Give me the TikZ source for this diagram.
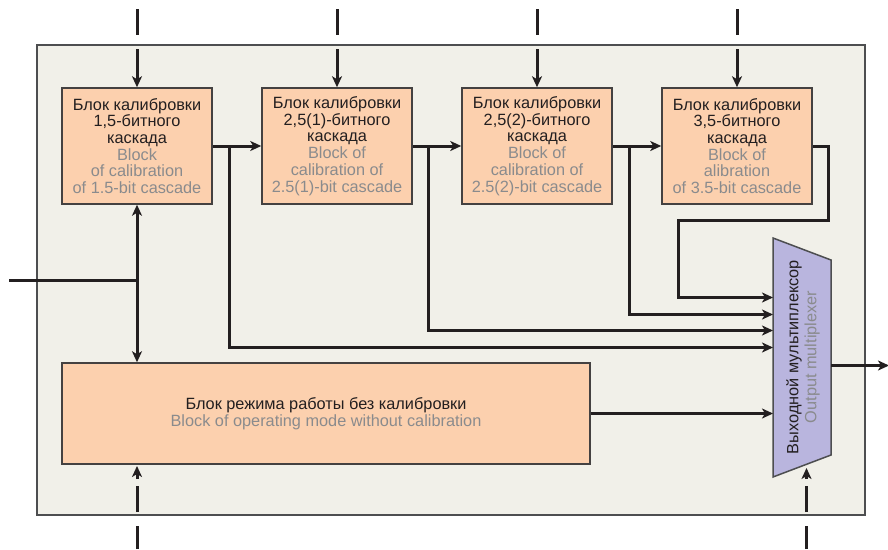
\documentclass[tikz,border=0pt]{standalone}
\usepackage{fontspec}
\setmainfont{Liberation Sans}
\usetikzlibrary{arrows.meta}
\definecolor{bgc}{HTML}{F1F0E9}
\definecolor{peach}{HTML}{FCD0AE}
\definecolor{lav}{HTML}{B9B5DE}
\definecolor{ink}{HTML}{231F20}
\definecolor{gtext}{HTML}{8A8B8D}
\definecolor{framec}{HTML}{4D4E50}
\begin{document}
\begin{tikzpicture}[x=1pt,y=-1pt,
  >={Stealth[length=11pt,width=10pt,inset=3pt]},
  conn/.style={draw=ink,line width=3pt},
  blk/.style={draw=ink!85,fill=peach,line width=1.5pt,minimum width=150pt,
    minimum height=116pt,inner sep=0pt,align=center,
    font=\fontsize{16.3}{16.7}\selectfont,text=ink},
  gl/.style={text=gtext}]
\useasboundingbox (0,0) rectangle (888,549);
\node[draw=framec,fill=bgc,line width=1.8pt,minimum width=828pt,minimum height=470pt,inner sep=0pt] (frame) at (451,280) {};

\node[blk] (b1) at (137,146) {Блок калибровки\\1,5-битного\\каскада\\\textcolor{gtext}{Block}\\\textcolor{gtext}{of calibration}\\\textcolor{gtext}{of 1.5-bit cascade}};
\node[blk] (b2) at (337,146) {Блок калибровки\\2,5(1)-битного\\каскада\\\textcolor{gtext}{Block of}\\\textcolor{gtext}{calibration of}\\\textcolor{gtext}{2.5(1)-bit cascade}};
\node[blk] (b3) at (537,146) {Блок калибровки\\2,5(2)-битного\\каскада\\\textcolor{gtext}{Block of}\\\textcolor{gtext}{calibration of}\\\textcolor{gtext}{2.5(2)-bit cascade}};
\node[blk] (b4) at (737,146) {Блок калибровки\\3,5-битного\\каскада\\\textcolor{gtext}{Block of}\\\textcolor{gtext}{alibration}\\\textcolor{gtext}{of 3.5-bit cascade}};
\node[blk,minimum width=528pt,minimum height=101pt,font=\fontsize{16.3}{17}\selectfont] (b5) at (326,413.5) {Блок режима работы без калибровки\\\textcolor{gtext}{Block of operating mode without calibration}};

% multiplexer
\draw[draw=framec,fill=lav,line width=1.5pt] (773,238) -- (831,260) -- (831,455) -- (773,477) -- cycle;
\node[rotate=90,align=center,inner sep=0pt,text=ink,font=\fontsize{16.3}{18}\selectfont] (mux) at (803,357) {Выходной мультиплексор\\\textcolor{gtext}{Output multiplexer}};
\coordinate (m1) at (773,297.5);
\coordinate (m2) at (773,314.5);
\coordinate (m3) at (773,330.5);
\coordinate (m4) at (773,347.5);
\coordinate (m5) at (773,413.5);
\coordinate (mo) at (831,365.5);
\coordinate (out) at (889,365.5);

% chain
\draw[conn,->] (b1.east) -- (b2.west);
\draw[conn,->] (b2.east) -- (b3.west);
\draw[conn,->] (b3.east) -- (b4.west);
\coordinate (j1) at (229.5,146);
\coordinate (j2) at (428.5,146);
\coordinate (j3) at (629.5,146);
\draw[conn,->] (j1) |- (m4);
\draw[conn,->] (j2) |- (m3);
\draw[conn,->] (j3) |- (m2);
\coordinate (k1) at (828.5,146);
\coordinate (k2) at (828.5,220.5);
\coordinate (k3) at (678.5,220.5);
\draw[conn,->] (b4.east) -- (k1) -- (k2) -- (k3) |- (m1);
\draw[conn,->] (b5.east) -- (m5);
\draw[conn,->] (mo) -- (out);

% left input
\coordinate (lin) at (9,280.5);
\coordinate (jl) at (137,280.5);
\draw[conn] (lin) -- (jl);
\draw[conn,->] (jl) -- (b1.south);
\draw[conn,->] (jl) -- (b5.north -| jl);

% top inputs
\foreach \x/\n in {137/b1,337/b2,537/b3,737/b4}{
  \coordinate (ta\n) at (\x,9);
  \coordinate (tb\n) at (\x,35);
  \coordinate (tc\n) at (\x,49);
  \draw[conn] (ta\n) -- (tb\n);
  \draw[conn,->] (tc\n) -- (\n.north);
}

% bottom inputs
\foreach \x/\t/\n in {137/466/p,806.5/468/q}{
  \coordinate (ba\n) at (\x,549);
  \coordinate (bb\n) at (\x,526);
  \coordinate (bc\n) at (\x,512);
  \coordinate (bd\n) at (\x,486);
  \coordinate (be\n) at (\x,479);
  \coordinate (bt\n) at (\x,\t);
  \draw[conn] (ba\n) -- (bb\n);
  \draw[conn] (bc\n) -- (bd\n);
  \draw[conn,->] (be\n) -- (bt\n);
}
\end{tikzpicture}
\end{document}
